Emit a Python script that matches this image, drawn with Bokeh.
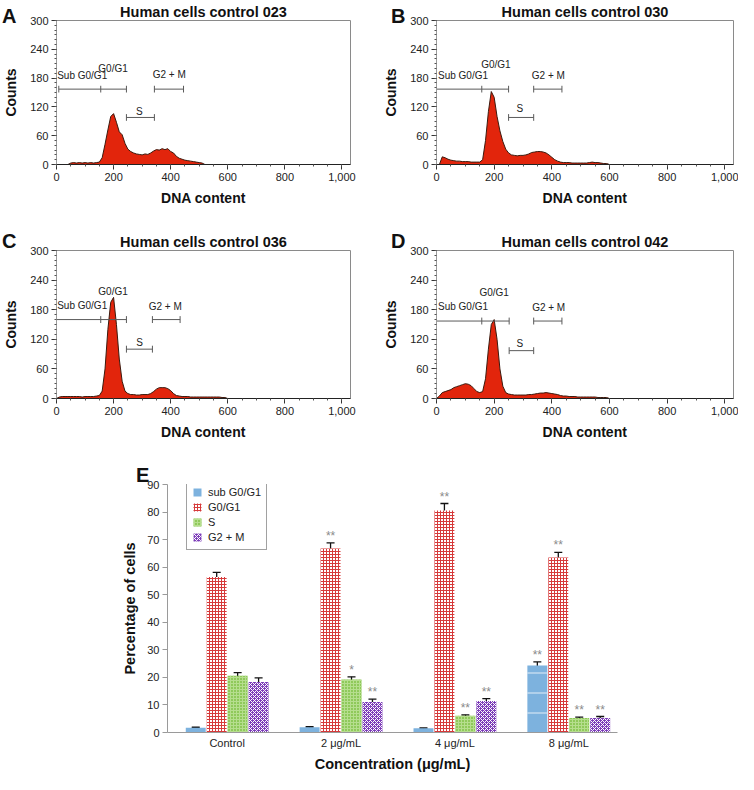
from bokeh.plotting import figure
from bokeh.layouts import column, row
from bokeh.models import (Range1d, ColumnDataSource, Whisker, TeeHead, Div,
                          Legend, LegendItem, FixedTicker, NumeralTickFormatter)
from bokeh.embed import file_html
from bokeh.resources import INLINE
from bokeh.core.properties import value

FONT = "Liberation Sans"

# ---------------- data: DNA histograms ----------------
dna_content = [0, 10, 20, 30, 40, 50, 60, 70, 80, 90,
               100, 110, 120, 130, 140, 150, 160, 170, 180, 190,
               200, 210, 220, 230, 240, 250, 260, 270, 280, 290,
               300, 310, 320, 330, 340, 350, 360, 370, 380, 390,
               400, 410, 420, 430, 440, 450, 460, 470, 480, 490,
               500, 510, 520, 530, 540, 550, 560, 570, 580, 590,
               600]

counts_023 = [0, 0, 0, 0, 0, 3, 4, 3, 4, 3,
              4, 3, 4, 3, 4, 5, 14, 42, 72, 100,
              106, 88, 68, 62, 44, 32, 27, 24, 22, 21,
              20, 22, 21, 24, 28, 31, 30, 33, 31, 33,
              27, 24, 17, 13, 11, 9, 8, 7, 6, 5,
              4, 3, 0, 0, 0, 0, 0, 0, 0, 0,
              0]
counts_030 = [0, 0, 16, 14, 11, 9, 8, 7, 7, 6,
              6, 6, 5, 5, 5, 5, 10, 50, 110, 152,
              140, 100, 70, 48, 32, 24, 20, 19, 18, 19,
              19, 20, 22, 25, 26, 27, 27, 26, 24, 20,
              15, 10, 7, 5, 4, 4, 4, 3, 3, 3,
              3, 3, 3, 4, 5, 4, 4, 3, 2, 2,
              0]
counts_036 = [0, 3, 4, 4, 4, 4, 4, 4, 4, 3,
              4, 4, 4, 4, 5, 6, 15, 60, 140, 195,
              205, 150, 80, 35, 15, 10, 8, 8, 7, 7,
              8, 8, 8, 10, 14, 19, 22, 22, 22, 20,
              16, 10, 6, 5, 4, 4, 4, 3, 3, 3,
              3, 3, 3, 3, 3, 3, 3, 3, 2, 2,
              0]
counts_042 = [0, 5, 12, 14, 16, 18, 22, 24, 26, 28,
              30, 29, 26, 20, 14, 12, 14, 40, 100, 150,
              160, 120, 60, 25, 12, 9, 8, 7, 7, 7,
              7, 7, 8, 8, 9, 10, 11, 11, 12, 11,
              10, 9, 8, 6, 5, 5, 4, 4, 4, 3,
              3, 3, 3, 3, 3, 3, 2, 2, 2, 2,
              0]

gate_labels = ["Sub G0/G1", "G0/G1", "S", "G2 + M"]
# gate boundaries: sub start, sub end / G0G1 start, G0G1 end / S start, S end / G2M start, G2M end
gates_023 = [8, 155, 245, 343, 445]
gates_030 = [0, 157, 250, 337, 435]
gates_036 = [0, 155, 245, 336, 433]
gates_042 = [0, 157, 252, 337, 435]
# gate marker levels (counts): main gates, S gate
levels_023 = [157, 98]
levels_030 = [157, 98]
levels_036 = [160, 100]
levels_042 = [157, 97]
# gate label anchor points (DNA content, counts)
glabel_x_023 = [90, 198, 290, 395]
glabel_y_023 = [185, 201, 110, 188]
glabel_x_030 = [92, 206, 289, 388]
glabel_y_030 = [185, 209, 116, 185]
glabel_x_036 = [90, 198, 291, 381]
glabel_y_036 = [188, 217, 114, 186]
glabel_x_042 = [92, 200, 289, 389]
glabel_y_042 = [186, 214, 112, 185]

# ---------------- data: bar chart ----------------
categories = ["Control", "2 \u03bcg/mL", "4 \u03bcg/mL", "8 \u03bcg/mL"]
series_names = ["sub G0/G1", "G0/G1", "S", "G2 + M"]
sub_g0g1 = [1.7, 1.9, 1.5, 24.3]
sub_g0g1_err = [0.2, 0.2, 0.15, 1.3]
g0g1 = [56.4, 66.8, 80.6, 63.5]
g0g1_err = [1.7, 2.0, 2.5, 1.9]
s_phase = [20.6, 19.2, 6.1, 5.3]
s_phase_err = [1.1, 1.0, 0.3, 0.3]
g2m = [18.3, 11.1, 11.4, 5.3]
g2m_err = [1.5, 1.0, 0.9, 0.5]
sig_sub = ["", "", "", "**"]
sig_g0g1 = ["", "**", "**", "**"]
sig_s = ["", "*", "**", "**"]
sig_g2m = ["", "**", "**", "**"]


def hist_panel(title, counts, gates, levels, lx, ly, width, bl, br, height, bt):
    fh = 148
    p = figure(width=width, height=height, x_range=Range1d(0, 1030), y_range=Range1d(0, 300),
               output_backend="svg", toolbar_location=None,
               min_border_left=bl, min_border_right=br, min_border_top=bt,
               min_border_bottom=height - bt - fh)
    p.title.text = title
    p.title.align = "center"
    p.title.text_font = FONT
    p.title.text_font_size = "14.5px"
    p.title.text_font_style = "bold"
    p.title.text_color = "#111111"
    p.title.standoff = 2
    p.grid.visible = False
    p.outline_line_color = "#8a8a8a"
    p.border_fill_color = "white"
    p.background_fill_color = "white"

    p.varea(x=dna_content, y1=0, y2=counts, fill_color="#e2250c")
    p.line(x=dna_content, y=counts, line_color="#3b1a0e", line_width=1)

    e0, e1, e2, e3, e4 = gates
    lm, ls = levels
    p.segment(x0=[e0, e1, e2, e3], y0=[lm, lm, ls, lm], x1=[e1, e2, e3, e4], y1=[lm, lm, ls, lm],
              line_color="#5a5a5a", line_width=1)
    tx = [e0, e1, e2, e2, e3, e3, e4]
    ty = [lm, lm, lm, ls, ls, lm, lm]
    p.segment(x0=tx, y0=[y - 7 for y in ty], x1=tx, y1=[y + 7 for y in ty],
              line_color="#5a5a5a", line_width=1)
    p.text(x=lx, y=ly, text=gate_labels, text_font=value(FONT), text_font_size="10px",
           text_align="center", text_baseline="middle", text_color="#222222")

    p.xaxis.ticker = FixedTicker(ticks=[0, 200, 400, 600, 800, 1000],
                                 minor_ticks=list(range(0, 1001, 50)))
    p.xaxis.formatter = NumeralTickFormatter(format="0,0")
    p.yaxis.ticker = FixedTicker(ticks=[0, 60, 120, 180, 240, 300],
                                 minor_ticks=list(range(0, 301, 10)))
    p.xaxis.axis_label = "DNA content"
    p.yaxis.axis_label = "Counts"
    for ax in (p.xaxis, p.yaxis):
        ax.axis_label_text_font = FONT
        ax.axis_label_text_font_style = "bold"
        ax.axis_label_text_font_size = "14px"
        ax.axis_label_text_color = "#111111"
        ax.major_label_text_font = FONT
        ax.major_label_text_font_size = "11px"
        ax.major_label_text_color = "#222222"
        ax.major_tick_out = 5
        ax.major_tick_in = 0
        ax.minor_tick_out = 2
        ax.minor_tick_in = 0
        ax.major_tick_line_color = "#333333"
        ax.minor_tick_line_color = "#555555"
        ax.major_label_standoff = 3
    p.xaxis.axis_line_color = "#222222"
    p.yaxis.axis_line_color = "#9a9a9a"
    p.xaxis.axis_label_standoff = 6
    p.yaxis.axis_label_standoff = 8
    return p


def letter_div(letter, left, top):
    return Div(text=letter, width=22, height=24,
               styles={"position": "absolute", "left": "%dpx" % left, "top": "%dpx" % top,
                       "font-family": "'Liberation Sans', Arial, sans-serif",
                       "font-size": "20px", "font-weight": "bold", "color": "#111111",
                       "line-height": "22px", "z-index": "10"})


pA = hist_panel("Human cells control 023", counts_023, gates_023, levels_023,
                glabel_x_023, glabel_y_023, 375, 49, 25, 230, 16)
pB = hist_panel("Human cells control 030", counts_030, gates_030, levels_030,
                glabel_x_030, glabel_y_030, 363, 61, 5, 230, 16)
pC = hist_panel("Human cells control 036", counts_036, gates_036, levels_036,
                glabel_x_036, glabel_y_036, 375, 49, 25, 232, 20)
pD = hist_panel("Human cells control 042", counts_042, gates_042, levels_042,
                glabel_x_042, glabel_y_042, 363, 61, 5, 232, 20)

# ---------------- bar chart E ----------------
pE = figure(width=738, height=312, x_range=Range1d(-0.524, 3.428), y_range=Range1d(0, 90),
            output_backend="svg", toolbar_location=None,
            min_border_left=167, min_border_right=121, min_border_top=22, min_border_bottom=36)
pE.grid.visible = False
pE.outline_line_color = None
pE.border_fill_color = "white"

values = [sub_g0g1, g0g1, s_phase, g2m]
errors = [sub_g0g1_err, g0g1_err, s_phase_err, g2m_err]
sigs = [sig_sub, sig_g0g1, sig_s, sig_g2m]
offsets = [-0.276, -0.092, 0.092, 0.276]
styles = [
    dict(fill_color="#7db2de", hatch_pattern="-", hatch_color="#e3eef8", hatch_scale=20, hatch_weight=1),
    dict(fill_color="#ffffff", hatch_pattern="+", hatch_color="#d63a3a", hatch_scale=3, hatch_weight=1),
    dict(fill_color="#8fc95a", hatch_pattern="+", hatch_color="#b6de8e", hatch_scale=3, hatch_weight=1),
    dict(fill_color="#7c3cb8", hatch_pattern="x", hatch_color="#ffffff", hatch_scale=4, hatch_weight=1),
]
renderers = []
for j in range(4):
    xs = [i + offsets[j] for i in range(len(categories))]
    src = ColumnDataSource(dict(x=xs, top=values[j],
                                upper=[v + e for v, e in zip(values[j], errors[j])],
                                lower=[v - e for v, e in zip(values[j], errors[j])],
                                sig=sigs[j]))
    r = pE.vbar(x="x", top="top", width=0.175, bottom=0, source=src, line_color=None, **styles[j])
    renderers.append(r)
    pE.add_layout(Whisker(base="x", upper="upper", lower="lower", source=src,
                          line_color="#111111", line_width=1.3,
                          upper_head=TeeHead(size=8, line_color="#111111", line_width=1.3),
                          lower_head=TeeHead(size=8, line_color="#111111", line_width=1.3)))
    pE.text(x="x", y="upper", text="sig", source=src, text_font=value(FONT),
            text_font_size="12px", text_align="center", text_baseline="bottom",
            text_color="#8a8a8a")

pE.xaxis.ticker = FixedTicker(ticks=[0, 1, 2, 3])
pE.xaxis.major_label_overrides = {i: c for i, c in enumerate(categories)}
pE.yaxis.ticker = FixedTicker(ticks=[0, 10, 20, 30, 40, 50, 60, 70, 80, 90])
pE.xaxis.axis_label = "Concentration (\u03bcg/mL)"
pE.yaxis.axis_label = "Percentage of cells"
for ax in (pE.xaxis, pE.yaxis):
    ax.axis_label_text_font = FONT
    ax.axis_label_text_font_style = "bold"
    ax.axis_label_text_font_size = "14.5px"
    ax.axis_label_text_color = "#111111"
    ax.major_label_text_font = FONT
    ax.major_label_text_font_size = "11px"
    ax.major_label_text_color = "#222222"
    ax.axis_line_color = "#9a9a9a"
    ax.major_tick_line_color = "#9a9a9a"
    ax.minor_tick_line_color = None
    ax.major_tick_in = 0
pE.xaxis.major_tick_out = 0
pE.yaxis.major_tick_out = 5
pE.xaxis.major_label_standoff = 4
pE.yaxis.major_label_standoff = 3
pE.xaxis.axis_label_standoff = 4
pE.yaxis.axis_label_standoff = 6

legend = Legend(items=[LegendItem(label=n, renderers=[r]) for n, r in zip(series_names, renderers)],
                location=(19, 182), label_text_font=FONT, label_text_font_size="11px",
                label_text_color="#222222", label_height=15, glyph_height=10, glyph_width=10,
                spacing=0, padding=5, margin=0, label_standoff=6,
                border_line_color="#444444", border_line_width=1, background_fill_alpha=1.0)
pE.add_layout(legend)

dA = letter_div("A", -3, 0)
dB = letter_div("B", 386, 0)
dC = letter_div("C", -3, 225)
dD = letter_div("D", 386, 225)
dE = letter_div("E", 131, 459)

layout = column(row(pA, pB), row(pC, pD), pE, dA, dB, dC, dD, dE)
open("out.html", "w").write(file_html(layout, INLINE))
